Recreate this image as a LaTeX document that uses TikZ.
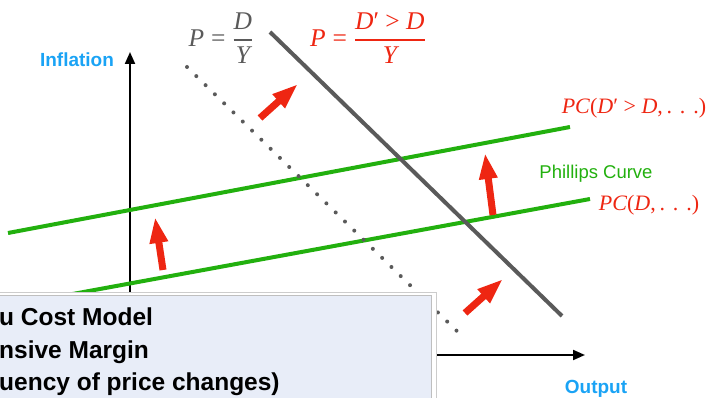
\documentclass[tikz,border=0pt]{standalone}
\usepackage{amsmath}
\usepackage{fontspec}
\setsansfont{Liberation Sans}
\newfontfamily\serifmath{Liberation Serif}
\usepackage{tikz}
\usetikzlibrary{arrows.meta}
\definecolor{pcgreen}{HTML}{22B00E}
\definecolor{shiftred}{HTML}{EE2612}
\definecolor{adgray}{HTML}{5A5A5A}
\definecolor{axisblue}{HTML}{1AA3F5}
\definecolor{boxfill}{HTML}{E8EDF8}
\newcommand\mi[1]{\mbox{\serifmath\itshape #1}}
\newcommand\mr[1]{\mbox{\serifmath #1}}
\newcommand\pcdots{.\kern0.36em.\kern0.36em.}
\tikzstyle{axisline} = [line width=2pt, -{Triangle[width=10pt,length=12pt]}]
\tikzstyle{axislabel} = [text=axisblue, inner sep=0pt, font=\sffamily\bfseries\fontsize{19}{22}\selectfont]
\tikzstyle{pcline} = [pcgreen, line width=4pt]
\tikzstyle{adline} = [adgray, line width=4pt]
\tikzstyle{adold} = [adgray, line width=4pt, line cap=round, dash pattern=on 0pt off 13pt]
\tikzstyle{shiftarrow} = [shiftred, line width=7pt, -{Triangle[width=17pt,length=26pt]}]
\tikzstyle{mathlabel} = [inner sep=0pt, font=\serifmath\fontsize{22}{26}\selectfont]
\tikzstyle{fraclabel} = [inner sep=0pt, font=\serifmath\fontsize{25.5}{30}\selectfont]
\tikzstyle{boxtext} = [anchor=base west, inner sep=0pt, font=\sffamily\bfseries\fontsize{24.5}{28}\selectfont]

\begin{document}
\begin{tikzpicture}[x=1pt, y=-1pt]
        \useasboundingbox (0,0) rectangle (710,398);
        % axes
        \coordinate (origin) at (130,355);
        \coordinate (ytop) at (130,52);
        \coordinate (xend) at (585,355);
        \draw [axisline] (origin) -- (ytop);
        \draw [axisline] (origin) -- (xend);
        \node (inflation) [axislabel] at (77,60) {Inflation};
        \node (output) [axislabel] at (596,389) {Output};

        % Phillips curves
        \coordinate (pcnewL) at (8,233);
        \coordinate (pcnewR) at (570,127);
        \coordinate (pcoldL) at (40,300);
        \coordinate (pcoldR) at (590,199);
        \draw [pcline] (pcnewL) -- (pcnewR);
        \draw [pcline] (pcoldL) -- (pcoldR);
        \node (pcnew) [mathlabel, text=shiftred] at (634,108) {\textit{PC}(\textit{D}′ > \textit{D},\,\pcdots)};
        \node (pcold) [mathlabel, text=shiftred] at (649,205) {\textit{PC}(\textit{D},\,\pcdots)};
        \node (phillips) [inner sep=0pt, text=pcgreen, font=\sffamily\fontsize{18.5}{22}\selectfont] at (596,174) {Phillips Curve};

        % demand lines
        \coordinate (adoldT) at (187,67);
        \coordinate (adoldB) at (463,337);
        \coordinate (adnewT) at (270,32);
        \coordinate (adnewB) at (562,316);
        \draw [adold] (adoldT) -- (adoldB);
        \draw [adline] (adnewT) -- (adnewB);
        \node (adoldlabel) [fraclabel, text=adgray] at (221,38)
            {$\mi{P} \mathrel{\mr{=}} \genfrac{}{}{1.4pt}{0}{\mi{D}}{\mi{Y}}$};
        \node (adnewlabel) [fraclabel, text=shiftred] at (368,38)
            {$\mi{P} \mathrel{\mr{=}} \genfrac{}{}{1.4pt}{0}{\mbox{\textit{D}′ > \textit{D}}}{\mi{Y}}$};

        % shifts
        \coordinate (s1a) at (163,270); \coordinate (s1b) at (155,217);
        \coordinate (s2a) at (260,118); \coordinate (s2b) at (298,84);
        \coordinate (s3a) at (493,215); \coordinate (s3b) at (485,153);
        \coordinate (s4a) at (465,313); \coordinate (s4b) at (503,279);
        \draw [shiftarrow] (s1a) -- (s1b);
        \draw [shiftarrow] (s2a) -- (s2b);
        \draw [shiftarrow] (s3a) -- (s3b);
        \draw [shiftarrow] (s4a) -- (s4b);

        % overlay box
        \draw [fill=white, draw=gray!40] (-10,292) rectangle (436,410);
        \draw [fill=boxfill, draw=gray!50] (-10,295) rectangle (431,410);
        \node (line1) [boxtext] at (-1,326) {u Cost Model};
        \node (line2) [boxtext] at (-1,358) {nsive Margin};
        \node (line3) [boxtext] at (-1,390) {uency of price changes)};
\end{tikzpicture}
\end{document}
